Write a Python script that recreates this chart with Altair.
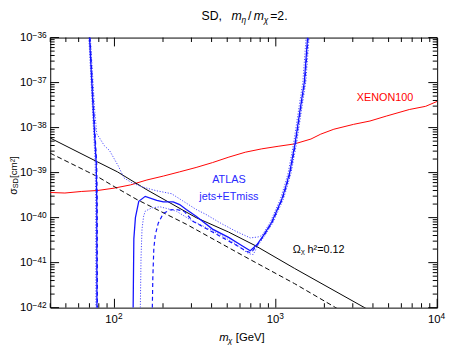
import altair as alt
import pandas as pd

FONT = "Liberation Sans"
W, H = 394, 275

# ---------------- data ----------------
# XENON100 spin-dependent limit
xenon_x = [40, 49.3, 62.3, 78.8, 99.6, 125.7, 158.9, 200.9, 253.7, 320.7, 405.4, 512.0,
           647.1, 818.2, 1033, 1306, 1651, 1900, 2290, 3031, 3833, 4838, 6720, 8487, 10000]
xenon_y = [3.62e-40, 3.52e-40, 3.81e-40, 4.01e-40, 4.52e-40, 5.33e-40, 6.86e-40, 8.38e-40,
           1.04e-39, 1.30e-39, 1.67e-39, 2.21e-39, 2.84e-39, 3.37e-39, 3.84e-39, 4.34e-39,
           5.57e-39, 7.16e-39, 9.20e-39, 1.18e-38, 1.40e-38, 1.80e-38, 2.52e-38, 2.97e-38, 3.82e-38]

# relic density Omega h^2 = 0.12 (solid and dashed)
relic_x = [40, 78.8, 104.3, 158.9, 320.7, 509.8, 744, 1306, 3623]
relic_y = [5.86e-39, 1.72e-39, 1.04e-39, 4.15e-40, 1.00e-40, 4.78e-41, 2.40e-41, 7.45e-42, 9.6e-43]
relic2_x = [40, 68.4, 78.8, 99.6, 138.1, 278.7, 647.1, 1306, 2398]
relic2_y = [2.70e-39, 1.04e-39, 8.09e-40, 4.90e-40, 2.51e-40, 7.14e-41, 1.34e-41, 3.42e-42, 9.6e-43]

# ATLAS jets+ETmiss, observed (solid)
atlas_left_x = [70.1, 73.4, 77.1, 77.7, 77.9]
atlas_left_y = [1e-36, 3.82e-38, 1.61e-39, 2.51e-40, 1e-42]
atlas_x = [130.6, 131.9, 134.9, 141.5, 155.2, 182.9, 200.9, 231.2, 253.7, 278.7, 320.7, 405.4,
           509.8, 617.9, 694.4, 762.7, 836.8, 941.2, 1021, 1088, 1151, 1217, 1315, 1401, 1503, 1574]
atlas_y = [1e-42, 3.37e-41, 1.00e-40, 2.31e-40, 2.97e-40, 2.43e-40, 2.24e-40, 2.24e-40, 1.95e-40,
           1.52e-40, 1.07e-40, 5.56e-41, 3.63e-41, 2.37e-41, 1.84e-41, 2.49e-41, 3.97e-41, 7.78e-41,
           1.52e-40, 2.51e-40, 4.82e-40, 9.75e-40, 4.34e-39, 1.99e-38, 1.04e-37, 1e-36]

# ATLAS expected (dashed)
atlas_exp_left_x = [70.6, 73.9, 77.6, 78.2, 78.4]
atlas_exp_left_y = [1e-36, 3.82e-38, 1.61e-39, 2.51e-40, 1e-42]
atlas_exp_x = [171.7, 172.9, 175.4, 179.1, 186.8, 200.9, 220.4, 242.2, 271.0, 306.2, 405.4, 562.3,
               665.7, 704.2, 768, 842.6, 947.8, 1028, 1095, 1159, 1226, 1324, 1411, 1513, 1585]
atlas_exp_y = [1e-42, 4.51e-42, 2.04e-41, 4.11e-41, 7.51e-41, 1.24e-40, 1.48e-40, 1.52e-40,
               1.37e-40, 8.31e-41, 4.78e-41, 2.49e-41, 1.75e-41, 1.66e-41, 2.49e-41, 3.97e-41,
               7.78e-41, 1.52e-40, 2.51e-40, 4.82e-40, 9.75e-40, 4.34e-39, 1.99e-38, 1.04e-37, 1e-36]

# ATLAS +-1 sigma (dotted)
atlas_up_x = [70.9, 75.5, 77.7, 80.7, 86.5, 93.2, 105.8, 114.6, 128.8, 148.2, 182.9, 225.8, 263.5,
              320.7, 369.0, 455.6, 562.3, 694.4, 776.7, 819.3, 921.6, 1000, 1065, 1127, 1192, 1288,
              1372, 1471, 1541]
atlas_up_y = [1e-36, 2.31e-38, 7.27e-39, 5.95e-39, 3.98e-39, 3.10e-39, 1.39e-39, 7.59e-40, 5.90e-40,
              4.82e-40, 3.94e-40, 3.40e-40, 2.39e-40, 1.52e-40, 1.18e-40, 7.51e-41, 5.03e-41,
              3.54e-41, 3.72e-41, 3.97e-41, 7.78e-41, 1.52e-40, 2.51e-40, 4.82e-40, 9.75e-40,
              4.34e-39, 1.99e-38, 1.04e-37, 1e-36]
atlas_lo_left_x = [69.4, 72.7, 76.0, 76.5, 76.8]
atlas_lo_left_y = [1e-36, 3.82e-38, 1.61e-39, 2.51e-40, 1e-42]
atlas_lo_x = [144.7, 146.1, 148.2, 151.7, 155.2, 170.5, 191.6, 210.5, 242.2, 291.9, 444.8, 562.3,
              678.0, 724.3, 778.9, 854.6, 961.2, 1043, 1111, 1175, 1243, 1343, 1431, 1535, 1607]
atlas_lo_y = [1e-42, 1.23e-41, 5.56e-41, 1.08e-40, 1.39e-40, 1.65e-40, 1.74e-40, 1.60e-40, 1.39e-40,
              9.19e-41, 4.33e-41, 2.62e-41, 1.58e-41, 1.51e-41, 2.49e-41, 3.97e-41, 7.78e-41,
              1.52e-40, 2.51e-40, 4.82e-40, 9.75e-40, 4.34e-39, 1.99e-38, 1.04e-37, 1e-36]

# annotations (data coordinates)
ann_text = ["XENON100", "ATLAS", "jets+ETmiss"]
ann_x = [4752, 512, 512]
ann_y = [4.43e-38, 6.86e-40, 2.88e-40]
ann_color = ["#ff0000", "#2a2aff", "#2a2aff"]
omega_text = "\u03a9\u1d6a h\u00b2=0.12"
omega_x, omega_y = 1275, 1.87e-41

# axes: tick values and labels ("10" with exponent)
x_major = [100, 1000, 10000]
x_exponent = ["2", "3", "4"]
x_minor = [40, 50, 60, 70, 80, 90, 200, 300, 400, 500, 600, 700, 800, 900,
           2000, 3000, 4000, 5000, 6000, 7000, 8000, 9000]
y_major = [1e-42, 1e-41, 1e-40, 1e-39, 1e-38, 1e-37, 1e-36]
y_exponent = ["\u221242", "\u221241", "\u221240", "\u221239", "\u221238", "\u221237", "\u221236"]
y_minor_mult = [2, 3, 4, 5, 6, 7, 8, 9]
y_minor = [k * d for d in y_major[:-1] for k in y_minor_mult]

# ---------------- chart ----------------
xscale = alt.Scale(type="log", domain=[40, 10000], nice=False)
yscale = alt.Scale(type="log", domain=[1e-42, 1e-36], nice=False)


def X(f):
    return alt.X(f"{f}:Q", scale=xscale, axis=None)


def Y(f):
    return alt.Y(f"{f}:Q", scale=yscale, axis=None)


def curve(xs, ys, color, width=1.0, dash=None):
    df = pd.DataFrame({"x": xs, "y": ys, "i": list(range(len(xs)))})
    kw = dict(color=color, strokeWidth=width, clip=True)
    if dash:
        kw["strokeDash"] = dash
    return alt.Chart(df).mark_line(**kw).encode(x=X("x"), y=Y("y"), order="i:Q")


def xticks(vals, length):
    df = pd.DataFrame({"v": vals})
    b = alt.Chart(df).mark_rule(color="black", strokeWidth=1).encode(
        x=X("v"), y=alt.value(H), y2=alt.value(H - length))
    t = alt.Chart(df).mark_rule(color="black", strokeWidth=1).encode(
        x=X("v"), y=alt.value(0), y2=alt.value(length))
    return [b, t]


def yticks(vals, length):
    df = pd.DataFrame({"v": vals})
    l = alt.Chart(df).mark_rule(color="black", strokeWidth=1).encode(
        y=Y("v"), x=alt.value(0), x2=alt.value(length))
    r = alt.Chart(df).mark_rule(color="black", strokeWidth=1).encode(
        y=Y("v"), x=alt.value(W), x2=alt.value(W - length))
    return [l, r]


def ptext(text, x, y, size, style="normal", angle=None, align="left", baseline="alphabetic"):
    kw = dict(text=text, font=FONT, fontSize=size, fontStyle=style, align=align,
              baseline=baseline, color="black")
    if angle is not None:
        kw["angle"] = angle
    return alt.Chart(alt.Data(values=[{"a": 1}])).mark_text(**kw).encode(
        x=alt.value(x), y=alt.value(y))


BLUE = "#1414ff"
DOT = "#4a4aff"
layers = []
layers += xticks(x_major, 9) + xticks(x_minor, 4.5)
layers += yticks(y_major, 9) + yticks(y_minor, 4.5)
layers += [
    curve(xenon_x, xenon_y, "#ff0000", 1.0),
    curve(relic_x, relic_y, "black", 1.0),
    curve(relic2_x, relic2_y, "black", 1.0, [5, 3]),
    curve(atlas_up_x, atlas_up_y, DOT, 1.0, [1.2, 1.6]),
    curve(atlas_lo_left_x, atlas_lo_left_y, DOT, 1.0, [1.2, 1.6]),
    curve(atlas_lo_x, atlas_lo_y, DOT, 1.0, [1.2, 1.6]),
    curve(atlas_exp_left_x, atlas_exp_left_y, BLUE, 1.2, [4, 3]),
    curve(atlas_exp_x, atlas_exp_y, BLUE, 1.2, [4, 3]),
    curve(atlas_left_x, atlas_left_y, BLUE, 1.3),
    curve(atlas_x, atlas_y, BLUE, 1.3),
]

# tick labels: "10" plus raised exponent
xl = pd.DataFrame({"v": x_major, "b": ["10"] * len(x_major), "e": x_exponent})
layers.append(alt.Chart(xl).mark_text(font=FONT, fontSize=11.5, align="right", baseline="middle",
                                      dx=3.5, color="black").encode(
    x=X("v"), y=alt.value(H + 13), text="b:N"))
layers.append(alt.Chart(xl).mark_text(font=FONT, fontSize=8.5, align="left", baseline="middle",
                                      dx=3.5, dy=-4, color="black").encode(
    x=X("v"), y=alt.value(H + 13), text="e:N"))
yl = pd.DataFrame({"v": y_major, "b": ["10"] * len(y_major), "e": y_exponent})
layers.append(alt.Chart(yl).mark_text(font=FONT, fontSize=11.5, align="right", baseline="middle",
                                      dy=0.5, color="black").encode(
    y=Y("v"), x=alt.value(-18), text="b:N"))
layers.append(alt.Chart(yl).mark_text(font=FONT, fontSize=8.5, align="left", baseline="middle",
                                      dy=-3, color="black").encode(
    y=Y("v"), x=alt.value(-18), text="e:N"))

ann_df = pd.DataFrame({"x": ann_x, "y": ann_y, "t": ann_text, "c": ann_color})
layers.append(alt.Chart(ann_df).mark_text(font=FONT, fontSize=11, align="center",
                                          baseline="middle").encode(
    x=X("x"), y=Y("y"), text="t:N", color=alt.Color("c:N", scale=None)))
om_df = pd.DataFrame({"x": [omega_x], "y": [omega_y], "t": [omega_text]})
layers.append(alt.Chart(om_df).mark_text(font=FONT, fontSize=11, align="left",
                                         baseline="middle", color="black").encode(
    x=X("x"), y=Y("y"), text="t:N"))

# title  "SD, m_eta / m_chi = 2."
ty = -17.5
layers += [
    ptext("SD,", 154, ty, 12.5),
    ptext("m", 184.7, ty, 12.5, "italic"),
    ptext("\u03b7", 194.7, ty + 2.5, 8.5, "italic"),
    ptext("/", 201.3, ty, 12.5),
    ptext("m", 207.3, ty, 12.5, "italic"),
    ptext("\u03c7", 217.3, ty + 2.5, 8.5, "italic"),
    ptext("=2.", 224, ty, 12.5),
]
# x axis title  "m_chi [GeV]"
xy = 309
layers += [
    ptext("m", 172, xy, 11.5, "italic"),
    ptext("\u03c7", 181, xy + 2.5, 8, "italic"),
    ptext("[GeV]", 189, xy, 11.5),
]
# y axis title  "sigma_SD [cm^2]"
layers += [
    ptext("\u03c3", -33.5, 160, 10.5, angle=270),
    ptext("SD", -32.5, 153.5, 7.5, angle=270),
    ptext(" [cm\u00b2]", -33.5, 143, 10, angle=270),
]

chart = alt.layer(*layers).properties(
    width=W, height=H,
    padding={"left": 43, "top": 27, "right": 9, "bottom": 39},
    autosize=alt.AutoSizeParams(type="none"),
).configure_view(stroke="black", strokeWidth=1)

chart.save("out.html", embed_options={"renderer": "svg", "actions": False})
